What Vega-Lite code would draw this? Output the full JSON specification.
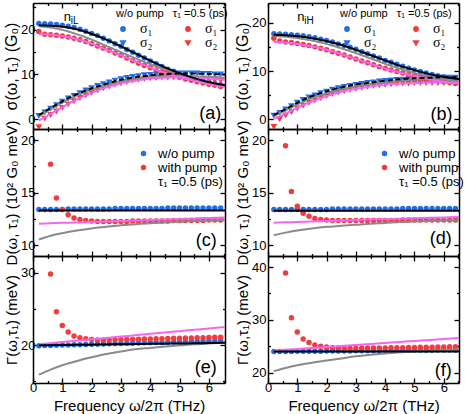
{
"$schema": "https://vega.github.io/schema/vega-lite/v6.json",
"padding": {"left": 3, "top": 1, "right": 0, "bottom": 0},
"bounds": "flush",
"config": {
  "font": "Liberation Sans",
  "view": {"stroke": null},
  "axis": {"domainColor": "#000", "domainWidth": 1.5, "tickColor": "#000", "tickWidth": 1.3, "labelColor": "#000", "titleColor": "#000", "labelFontSize": 13, "titleFontSize": 15, "titleFontWeight": "normal", "grid": false, "labelPadding": 3, "titlePadding": 1, "labelFont": "Liberation Sans", "titleFont": "Liberation Sans", "labelFlush": false, "labelOverlap": false, "labelBound": false},
  "legend": {"titleFontWeight": "normal", "titleColor": "#000", "labelColor": "#000", "padding": 0, "symbolStrokeWidth": 0}
},
"datasets": {
  "pts": [
    {"pn":"a","x":0.2,"w1":21.4,"p1":19.6,"w2":0.8,"p2":-1.7},
    {"pn":"a","x":0.4,"w1":21.35,"p1":19.0,"w2":1.6,"p2":0.2},
    {"pn":"a","x":0.6,"w1":21.3,"p1":18.9,"w2":2.4,"p2":1.0},
    {"pn":"a","x":0.8,"w1":21.2,"p1":18.8,"w2":3.2,"p2":1.8},
    {"pn":"a","x":1.0,"w1":21.0,"p1":18.6,"w2":4.0,"p2":2.6},
    {"pn":"a","x":1.2,"w1":20.8,"p1":18.4,"w2":4.7,"p2":3.4},
    {"pn":"a","x":1.4,"w1":20.5,"p1":18.1,"w2":5.3,"p2":4.1},
    {"pn":"a","x":1.6,"w1":20.1,"p1":17.8,"w2":5.9,"p2":4.8},
    {"pn":"a","x":1.8,"w1":19.7,"p1":17.4,"w2":6.5,"p2":5.4},
    {"pn":"a","x":2.0,"w1":19.2,"p1":16.9,"w2":7.0,"p2":6.0},
    {"pn":"a","x":2.2,"w1":18.7,"p1":16.4,"w2":7.5,"p2":6.5},
    {"pn":"a","x":2.4,"w1":18.1,"p1":15.9,"w2":7.9,"p2":7.0},
    {"pn":"a","x":2.6,"w1":17.5,"p1":15.4,"w2":8.3,"p2":7.4},
    {"pn":"a","x":2.8,"w1":16.9,"p1":14.8,"w2":8.7,"p2":7.8},
    {"pn":"a","x":3.0,"w1":16.3,"p1":14.3,"w2":9.0,"p2":8.1},
    {"pn":"a","x":3.2,"w1":15.6,"p1":13.7,"w2":9.3,"p2":8.4},
    {"pn":"a","x":3.4,"w1":15.0,"p1":13.1,"w2":9.5,"p2":8.7},
    {"pn":"a","x":3.6,"w1":14.3,"p1":12.5,"w2":9.7,"p2":8.9},
    {"pn":"a","x":3.8,"w1":13.7,"p1":12.0,"w2":9.9,"p2":9.1},
    {"pn":"a","x":4.0,"w1":13.0,"p1":11.5,"w2":10.0,"p2":9.2},
    {"pn":"a","x":4.2,"w1":12.4,"p1":11.0,"w2":10.1,"p2":9.3},
    {"pn":"a","x":4.4,"w1":11.8,"p1":10.6,"w2":10.2,"p2":9.4},
    {"pn":"a","x":4.6,"w1":11.2,"p1":10.2,"w2":10.3,"p2":9.4},
    {"pn":"a","x":4.8,"w1":10.7,"p1":9.8,"w2":10.3,"p2":9.4},
    {"pn":"a","x":5.0,"w1":10.2,"p1":9.4,"w2":10.3,"p2":9.4},
    {"pn":"a","x":5.2,"w1":9.7,"p1":9.0,"w2":10.3,"p2":9.3},
    {"pn":"a","x":5.4,"w1":9.3,"p1":8.7,"w2":10.3,"p2":9.2},
    {"pn":"a","x":5.6,"w1":8.9,"p1":8.4,"w2":10.3,"p2":9.1},
    {"pn":"a","x":5.8,"w1":8.6,"p1":8.1,"w2":10.2,"p2":9.0},
    {"pn":"a","x":6.0,"w1":8.3,"p1":7.8,"w2":10.2,"p2":8.9},
    {"pn":"a","x":6.2,"w1":8.0,"p1":7.6,"w2":10.1,"p2":8.8},
    {"pn":"a","x":6.4,"w1":7.7,"p1":7.3,"w2":10.1,"p2":8.7},
    {"pn":"b","x":0.2,"w1":17.7,"p1":16.8,"w2":0.8,"p2":-1.5},
    {"pn":"b","x":0.4,"w1":17.65,"p1":16.2,"w2":1.4,"p2":0.1},
    {"pn":"b","x":0.6,"w1":17.6,"p1":16.0,"w2":2.1,"p2":0.9},
    {"pn":"b","x":0.8,"w1":17.5,"p1":15.9,"w2":2.8,"p2":1.6},
    {"pn":"b","x":1.0,"w1":17.4,"p1":15.7,"w2":3.5,"p2":2.3},
    {"pn":"b","x":1.2,"w1":17.3,"p1":15.5,"w2":4.1,"p2":2.9},
    {"pn":"b","x":1.4,"w1":17.1,"p1":15.3,"w2":4.6,"p2":3.5},
    {"pn":"b","x":1.6,"w1":16.9,"p1":15.0,"w2":5.0,"p2":4.0},
    {"pn":"b","x":1.8,"w1":16.6,"p1":14.7,"w2":5.5,"p2":4.5},
    {"pn":"b","x":2.0,"w1":16.3,"p1":14.4,"w2":5.8,"p2":4.9},
    {"pn":"b","x":2.2,"w1":16.0,"p1":14.0,"w2":6.2,"p2":5.3},
    {"pn":"b","x":2.4,"w1":15.6,"p1":13.7,"w2":6.5,"p2":5.6},
    {"pn":"b","x":2.6,"w1":15.3,"p1":13.3,"w2":6.8,"p2":5.9},
    {"pn":"b","x":2.8,"w1":14.9,"p1":12.9,"w2":7.0,"p2":6.2},
    {"pn":"b","x":3.0,"w1":14.5,"p1":12.5,"w2":7.2,"p2":6.4},
    {"pn":"b","x":3.2,"w1":14.0,"p1":12.1,"w2":7.4,"p2":6.6},
    {"pn":"b","x":3.4,"w1":13.6,"p1":11.7,"w2":7.6,"p2":6.8},
    {"pn":"b","x":3.6,"w1":13.1,"p1":11.3,"w2":7.7,"p2":7.0},
    {"pn":"b","x":3.8,"w1":12.7,"p1":10.9,"w2":7.9,"p2":7.1},
    {"pn":"b","x":4.0,"w1":12.2,"p1":10.6,"w2":8.0,"p2":7.2},
    {"pn":"b","x":4.2,"w1":11.8,"p1":10.2,"w2":8.1,"p2":7.3},
    {"pn":"b","x":4.4,"w1":11.4,"p1":9.9,"w2":8.2,"p2":7.4},
    {"pn":"b","x":4.6,"w1":11.0,"p1":9.6,"w2":8.3,"p2":7.5},
    {"pn":"b","x":4.8,"w1":10.6,"p1":9.3,"w2":8.4,"p2":7.5},
    {"pn":"b","x":5.0,"w1":10.2,"p1":9.0,"w2":8.5,"p2":7.6},
    {"pn":"b","x":5.2,"w1":9.9,"p1":8.7,"w2":8.5,"p2":7.6},
    {"pn":"b","x":5.4,"w1":9.6,"p1":8.4,"w2":8.6,"p2":7.6},
    {"pn":"b","x":5.6,"w1":9.3,"p1":8.2,"w2":8.6,"p2":7.6},
    {"pn":"b","x":5.8,"w1":9.0,"p1":8.0,"w2":8.7,"p2":7.6},
    {"pn":"b","x":6.0,"w1":8.8,"p1":7.8,"w2":8.7,"p2":7.6},
    {"pn":"b","x":6.2,"w1":8.6,"p1":7.6,"w2":8.7,"p2":7.6},
    {"pn":"b","x":6.4,"w1":8.4,"p1":7.4,"w2":8.7,"p2":7.5},
    {"pn":"c","x":0.2,"wo":13.4,"wi":null},{"pn":"c","x":0.4,"wo":13.4,"wi":null},{"pn":"c","x":0.6,"wo":13.4,"wi":17.7},{"pn":"c","x":0.8,"wo":13.4,"wi":14.5},
    {"pn":"c","x":1.0,"wo":13.4,"wi":13.4},{"pn":"c","x":1.2,"wo":13.45,"wi":12.9},{"pn":"c","x":1.4,"wo":13.45,"wi":12.6},{"pn":"c","x":1.6,"wo":13.45,"wi":12.45},
    {"pn":"c","x":1.8,"wo":13.45,"wi":12.35},{"pn":"c","x":2.0,"wo":13.45,"wi":12.3},{"pn":"c","x":2.2,"wo":13.45,"wi":12.25},{"pn":"c","x":2.4,"wo":13.45,"wi":12.25},
    {"pn":"c","x":2.6,"wo":13.45,"wi":12.25},{"pn":"c","x":2.8,"wo":13.5,"wi":12.25},{"pn":"c","x":3.0,"wo":13.5,"wi":12.25},{"pn":"c","x":3.2,"wo":13.5,"wi":12.25},
    {"pn":"c","x":3.4,"wo":13.5,"wi":12.3},{"pn":"c","x":3.6,"wo":13.5,"wi":12.3},{"pn":"c","x":3.8,"wo":13.5,"wi":12.3},{"pn":"c","x":4.0,"wo":13.5,"wi":12.3},
    {"pn":"c","x":4.2,"wo":13.5,"wi":12.3},{"pn":"c","x":4.4,"wo":13.5,"wi":12.3},{"pn":"c","x":4.6,"wo":13.55,"wi":12.3},{"pn":"c","x":4.8,"wo":13.55,"wi":12.35},
    {"pn":"c","x":5.0,"wo":13.55,"wi":12.35},{"pn":"c","x":5.2,"wo":13.55,"wi":12.35},{"pn":"c","x":5.4,"wo":13.55,"wi":12.35},{"pn":"c","x":5.6,"wo":13.55,"wi":12.35},
    {"pn":"c","x":5.8,"wo":13.55,"wi":12.35},{"pn":"c","x":6.0,"wo":13.55,"wi":12.4},{"pn":"c","x":6.2,"wo":13.55,"wi":12.4},{"pn":"c","x":6.4,"wo":13.55,"wi":12.4},
    {"pn":"d","x":0.2,"wo":13.4,"wi":null},{"pn":"d","x":0.4,"wo":13.4,"wi":null},{"pn":"d","x":0.6,"wo":13.4,"wi":19.45},{"pn":"d","x":0.8,"wo":13.4,"wi":15.1},
    {"pn":"d","x":1.0,"wo":13.4,"wi":13.7},{"pn":"d","x":1.2,"wo":13.4,"wi":13.05},{"pn":"d","x":1.4,"wo":13.4,"wi":12.75},{"pn":"d","x":1.6,"wo":13.4,"wi":12.55},
    {"pn":"d","x":1.8,"wo":13.4,"wi":12.45},{"pn":"d","x":2.0,"wo":13.4,"wi":12.4},{"pn":"d","x":2.2,"wo":13.45,"wi":12.35},{"pn":"d","x":2.4,"wo":13.45,"wi":12.35},
    {"pn":"d","x":2.6,"wo":13.45,"wi":12.35},{"pn":"d","x":2.8,"wo":13.45,"wi":12.35},{"pn":"d","x":3.0,"wo":13.45,"wi":12.35},{"pn":"d","x":3.2,"wo":13.45,"wi":12.35},
    {"pn":"d","x":3.4,"wo":13.45,"wi":12.35},{"pn":"d","x":3.6,"wo":13.45,"wi":12.35},{"pn":"d","x":3.8,"wo":13.45,"wi":12.35},{"pn":"d","x":4.0,"wo":13.45,"wi":12.35},
    {"pn":"d","x":4.2,"wo":13.45,"wi":12.35},{"pn":"d","x":4.4,"wo":13.45,"wi":12.35},{"pn":"d","x":4.6,"wo":13.5,"wi":12.4},{"pn":"d","x":4.8,"wo":13.5,"wi":12.4},
    {"pn":"d","x":5.0,"wo":13.5,"wi":12.4},{"pn":"d","x":5.2,"wo":13.5,"wi":12.4},{"pn":"d","x":5.4,"wo":13.5,"wi":12.4},{"pn":"d","x":5.6,"wo":13.5,"wi":12.4},
    {"pn":"d","x":5.8,"wo":13.5,"wi":12.4},{"pn":"d","x":6.0,"wo":13.5,"wi":12.4},{"pn":"d","x":6.2,"wo":13.5,"wi":12.4},{"pn":"d","x":6.4,"wo":13.5,"wi":12.4},
    {"pn":"e","x":0.2,"wo":19.9,"wi":null},{"pn":"e","x":0.4,"wo":19.92,"wi":null},{"pn":"e","x":0.6,"wo":19.94,"wi":29.8},{"pn":"e","x":0.8,"wo":19.97,"wi":24.6},
    {"pn":"e","x":1.0,"wo":19.99,"wi":22.7},{"pn":"e","x":1.2,"wo":20.01,"wi":21.8},{"pn":"e","x":1.4,"wo":20.03,"wi":21.25},{"pn":"e","x":1.6,"wo":20.05,"wi":21.0},
    {"pn":"e","x":1.8,"wo":20.08,"wi":20.85},{"pn":"e","x":2.0,"wo":20.1,"wi":20.75},{"pn":"e","x":2.2,"wo":20.12,"wi":20.7},{"pn":"e","x":2.4,"wo":20.14,"wi":20.7},
    {"pn":"e","x":2.6,"wo":20.16,"wi":20.7},{"pn":"e","x":2.8,"wo":20.19,"wi":20.72},{"pn":"e","x":3.0,"wo":20.21,"wi":20.74},{"pn":"e","x":3.2,"wo":20.23,"wi":20.76},
    {"pn":"e","x":3.4,"wo":20.25,"wi":20.78},{"pn":"e","x":3.6,"wo":20.27,"wi":20.8},{"pn":"e","x":3.8,"wo":20.3,"wi":20.82},{"pn":"e","x":4.0,"wo":20.32,"wi":20.84},
    {"pn":"e","x":4.2,"wo":20.34,"wi":20.86},{"pn":"e","x":4.4,"wo":20.36,"wi":20.88},{"pn":"e","x":4.6,"wo":20.38,"wi":20.9},{"pn":"e","x":4.8,"wo":20.41,"wi":20.92},
    {"pn":"e","x":5.0,"wo":20.43,"wi":20.94},{"pn":"e","x":5.2,"wo":20.45,"wi":20.96},{"pn":"e","x":5.4,"wo":20.47,"wi":20.98},{"pn":"e","x":5.6,"wo":20.49,"wi":21.0},
    {"pn":"e","x":5.8,"wo":20.52,"wi":21.02},{"pn":"e","x":6.0,"wo":20.54,"wi":21.04},{"pn":"e","x":6.2,"wo":20.56,"wi":21.06},{"pn":"e","x":6.4,"wo":20.58,"wi":21.08},
    {"pn":"f","x":0.2,"wo":24.0,"wi":null},{"pn":"f","x":0.4,"wo":24.0,"wi":null},{"pn":"f","x":0.6,"wo":24.02,"wi":38.9},{"pn":"f","x":0.8,"wo":24.03,"wi":30.4},
    {"pn":"f","x":1.0,"wo":24.04,"wi":27.7},{"pn":"f","x":1.2,"wo":24.05,"wi":26.4},{"pn":"f","x":1.4,"wo":24.06,"wi":25.7},{"pn":"f","x":1.6,"wo":24.07,"wi":25.25},
    {"pn":"f","x":1.8,"wo":24.08,"wi":25.0},{"pn":"f","x":2.0,"wo":24.09,"wi":24.85},{"pn":"f","x":2.2,"wo":24.1,"wi":24.75},{"pn":"f","x":2.4,"wo":24.11,"wi":24.7},
    {"pn":"f","x":2.6,"wo":24.12,"wi":24.65},{"pn":"f","x":2.8,"wo":24.13,"wi":24.65},{"pn":"f","x":3.0,"wo":24.14,"wi":24.65},{"pn":"f","x":3.2,"wo":24.15,"wi":24.66},
    {"pn":"f","x":3.4,"wo":24.16,"wi":24.67},{"pn":"f","x":3.6,"wo":24.17,"wi":24.68},{"pn":"f","x":3.8,"wo":24.18,"wi":24.69},{"pn":"f","x":4.0,"wo":24.19,"wi":24.7},
    {"pn":"f","x":4.2,"wo":24.2,"wi":24.71},{"pn":"f","x":4.4,"wo":24.21,"wi":24.72},{"pn":"f","x":4.6,"wo":24.22,"wi":24.74},{"pn":"f","x":4.8,"wo":24.23,"wi":24.76},
    {"pn":"f","x":5.0,"wo":24.24,"wi":24.78},{"pn":"f","x":5.2,"wo":24.25,"wi":24.8},{"pn":"f","x":5.4,"wo":24.26,"wi":24.82},{"pn":"f","x":5.6,"wo":24.27,"wi":24.84},
    {"pn":"f","x":5.8,"wo":24.28,"wi":24.86},{"pn":"f","x":6.0,"wo":24.29,"wi":24.88},{"pn":"f","x":6.2,"wo":24.3,"wi":24.9},{"pn":"f","x":6.4,"wo":24.3,"wi":24.92}
  ],
  "lns": [
    {"pn":"a","x":0.2,"g1":20.8,"g2":0.6,"m1":19.1,"m2":-0.3,"k1":21.0,"k2":0.9},
    {"pn":"a","x":0.6,"g1":20.5,"g2":2.2,"m1":18.9,"m2":1.2,"k1":20.9,"k2":2.5},
    {"pn":"a","x":1.0,"g1":20.0,"g2":3.7,"m1":18.6,"m2":2.7,"k1":20.7,"k2":4.0},
    {"pn":"a","x":1.5,"g1":19.0,"g2":5.3,"m1":17.9,"m2":4.4,"k1":20.1,"k2":5.6},
    {"pn":"a","x":2.0,"g1":17.8,"g2":6.6,"m1":16.9,"m2":5.9,"k1":19.1,"k2":6.9},
    {"pn":"a","x":2.5,"g1":16.4,"g2":7.6,"m1":15.6,"m2":7.1,"k1":17.8,"k2":7.9},
    {"pn":"a","x":3.0,"g1":15.0,"g2":8.4,"m1":14.3,"m2":8.0,"k1":16.3,"k2":8.8},
    {"pn":"a","x":3.5,"g1":13.6,"g2":9.0,"m1":12.9,"m2":8.6,"k1":14.7,"k2":9.4},
    {"pn":"a","x":4.0,"g1":12.3,"g2":9.4,"m1":11.6,"m2":9.1,"k1":13.1,"k2":9.8},
    {"pn":"a","x":4.5,"g1":11.1,"g2":9.6,"m1":10.4,"m2":9.3,"k1":11.6,"k2":10.1},
    {"pn":"a","x":5.0,"g1":10.0,"g2":9.7,"m1":9.4,"m2":9.4,"k1":10.3,"k2":10.2},
    {"pn":"a","x":5.5,"g1":9.0,"g2":9.6,"m1":8.6,"m2":9.3,"k1":9.2,"k2":10.2},
    {"pn":"a","x":6.0,"g1":8.1,"g2":9.5,"m1":7.8,"m2":9.1,"k1":8.3,"k2":10.1},
    {"pn":"a","x":6.55,"g1":7.4,"g2":9.3,"m1":7.2,"m2":8.8,"k1":7.6,"k2":10.0},
    {"pn":"b","x":0.2,"g1":17.2,"g2":0.7,"m1":16.0,"m2":0.1,"k1":17.5,"k2":0.9},
    {"pn":"b","x":0.6,"g1":17.1,"g2":1.9,"m1":15.9,"m2":1.2,"k1":17.4,"k2":2.1},
    {"pn":"b","x":1.0,"g1":16.8,"g2":3.1,"m1":15.6,"m2":2.4,"k1":17.2,"k2":3.4},
    {"pn":"b","x":1.5,"g1":16.3,"g2":4.4,"m1":15.1,"m2":3.7,"k1":16.8,"k2":4.8},
    {"pn":"b","x":2.0,"g1":15.6,"g2":5.4,"m1":14.4,"m2":4.8,"k1":16.2,"k2":5.8},
    {"pn":"b","x":2.5,"g1":14.7,"g2":6.2,"m1":13.5,"m2":5.7,"k1":15.4,"k2":6.6},
    {"pn":"b","x":3.0,"g1":13.7,"g2":6.8,"m1":12.5,"m2":6.3,"k1":14.4,"k2":7.2},
    {"pn":"b","x":3.5,"g1":12.6,"g2":7.3,"m1":11.5,"m2":6.8,"k1":13.3,"k2":7.6},
    {"pn":"b","x":4.0,"g1":11.5,"g2":7.7,"m1":10.5,"m2":7.2,"k1":12.2,"k2":8.0},
    {"pn":"b","x":4.5,"g1":10.5,"g2":8.0,"m1":9.7,"m2":7.4,"k1":11.1,"k2":8.3},
    {"pn":"b","x":5.0,"g1":9.6,"g2":8.2,"m1":9.0,"m2":7.5,"k1":10.2,"k2":8.5},
    {"pn":"b","x":5.5,"g1":8.9,"g2":8.3,"m1":8.3,"m2":7.6,"k1":9.4,"k2":8.6},
    {"pn":"b","x":6.0,"g1":8.3,"g2":8.3,"m1":7.8,"m2":7.6,"k1":8.8,"k2":8.7},
    {"pn":"b","x":6.55,"g1":7.8,"g2":8.3,"m1":7.4,"m2":7.5,"k1":8.3,"k2":8.7},
    {"pn":"c","x":0.2,"g":10.55,"m":12.05,"k":13.3},{"pn":"c","x":0.6,"g":10.9,"m":12.09,"k":13.3},{"pn":"c","x":1.0,"g":11.15,"m":12.13,"k":13.3},
    {"pn":"c","x":1.5,"g":11.4,"m":12.17,"k":13.3},{"pn":"c","x":2.0,"g":11.6,"m":12.22,"k":13.3},{"pn":"c","x":2.5,"g":11.75,"m":12.27,"k":13.3},
    {"pn":"c","x":3.0,"g":11.9,"m":12.31,"k":13.3},{"pn":"c","x":3.5,"g":12.0,"m":12.36,"k":13.3},{"pn":"c","x":4.0,"g":12.1,"m":12.41,"k":13.3},
    {"pn":"c","x":4.5,"g":12.17,"m":12.46,"k":13.3},{"pn":"c","x":5.0,"g":12.24,"m":12.5,"k":13.3},{"pn":"c","x":5.5,"g":12.3,"m":12.55,"k":13.3},
    {"pn":"c","x":6.0,"g":12.35,"m":12.6,"k":13.3},{"pn":"c","x":6.55,"g":12.4,"m":12.65,"k":13.3},
    {"pn":"d","x":0.2,"g":10.95,"m":12.15,"k":13.28},{"pn":"d","x":0.6,"g":11.2,"m":12.18,"k":13.28},{"pn":"d","x":1.0,"g":11.4,"m":12.22,"k":13.28},
    {"pn":"d","x":1.5,"g":11.6,"m":12.26,"k":13.28},{"pn":"d","x":2.0,"g":11.75,"m":12.31,"k":13.28},{"pn":"d","x":2.5,"g":11.85,"m":12.35,"k":13.28},
    {"pn":"d","x":3.0,"g":11.95,"m":12.39,"k":13.28},{"pn":"d","x":3.5,"g":12.05,"m":12.44,"k":13.28},{"pn":"d","x":4.0,"g":12.12,"m":12.48,"k":13.28},
    {"pn":"d","x":4.5,"g":12.2,"m":12.52,"k":13.28},{"pn":"d","x":5.0,"g":12.25,"m":12.57,"k":13.28},{"pn":"d","x":5.5,"g":12.3,"m":12.61,"k":13.28},
    {"pn":"d","x":6.0,"g":12.35,"m":12.65,"k":13.28},{"pn":"d","x":6.55,"g":12.4,"m":12.7,"k":13.28},
    {"pn":"e","x":0.2,"g":15.9,"m":20.1,"k":19.95},{"pn":"e","x":0.6,"g":16.6,"m":20.25,"k":19.97},{"pn":"e","x":1.0,"g":17.2,"m":20.4,"k":20.0},
    {"pn":"e","x":1.5,"g":17.8,"m":20.59,"k":20.02},{"pn":"e","x":2.0,"g":18.3,"m":20.78,"k":20.05},{"pn":"e","x":2.5,"g":18.75,"m":20.97,"k":20.08},
    {"pn":"e","x":3.0,"g":19.1,"m":21.16,"k":20.1},{"pn":"e","x":3.5,"g":19.4,"m":21.35,"k":20.13},{"pn":"e","x":4.0,"g":19.6,"m":21.54,"k":20.16},
    {"pn":"e","x":4.5,"g":19.8,"m":21.73,"k":20.18},{"pn":"e","x":5.0,"g":19.95,"m":21.91,"k":20.21},{"pn":"e","x":5.5,"g":20.1,"m":22.1,"k":20.24},
    {"pn":"e","x":6.0,"g":20.2,"m":22.29,"k":20.27},{"pn":"e","x":6.55,"g":20.35,"m":22.5,"k":20.3},
    {"pn":"f","x":0.2,"g":20.3,"m":24.2,"k":24.0},{"pn":"f","x":0.6,"g":20.9,"m":24.35,"k":24.0},{"pn":"f","x":1.0,"g":21.4,"m":24.5,"k":24.0},
    {"pn":"f","x":1.5,"g":21.9,"m":24.69,"k":24.0},{"pn":"f","x":2.0,"g":22.3,"m":24.88,"k":24.0},{"pn":"f","x":2.5,"g":22.7,"m":25.07,"k":24.0},
    {"pn":"f","x":3.0,"g":23.1,"m":25.26,"k":24.0},{"pn":"f","x":3.5,"g":23.4,"m":25.45,"k":24.0},{"pn":"f","x":4.0,"g":23.65,"m":25.64,"k":24.0},
    {"pn":"f","x":4.5,"g":23.85,"m":25.83,"k":24.0},{"pn":"f","x":5.0,"g":24.0,"m":26.01,"k":24.0},{"pn":"f","x":5.5,"g":24.15,"m":26.2,"k":24.0},
    {"pn":"f","x":6.0,"g":24.3,"m":26.39,"k":24.0},{"pn":"f","x":6.55,"g":24.4,"m":26.6,"k":24.0}
  ]
},
"columns": 2,
"spacing": {"row": 0, "column": 43},
"resolve": {
  "scale": {"x": "independent", "y": "independent", "fill": "independent", "shape": "independent", "stroke": "independent", "strokeDash": "independent"},
  "axis": {"x": "independent", "y": "independent"},
  "legend": {"fill": "independent", "shape": "independent", "stroke": "independent", "strokeDash": "independent"}
},
"concat": [
 {
  "width": 192, "height": 126,
  "layer": [
   {
    "data": {"name": "pts"},
    "transform": [{"filter": "datum.pn==='a'"}, {"fold": ["w1","w2","p1","p2"], "as": ["s","y"]}, {"filter": "isValid(datum.y)"}],
    "mark": {"type": "point", "filled": true, "opacity": 1, "size": 30, "clip": true},
    "encoding": {
      "x": {"field": "x", "type": "quantitative", "scale": {"domain": [0, 6.55], "nice": false, "zero": false}, "axis": {"orient": "bottom", "values": [0,0.5,1,1.5,2,2.5,3,3.5,4,4.5,5,5.5,6,6.5], "labels": false, "title": null, "tickSize": {"condition": {"test": "datum.value % 1 !== 0", "value": -2.5}, "value": -5}}},
      "y": {"field": "y", "type": "quantitative", "scale": {"domain": [-2.2, 26], "nice": false, "zero": false}, "axis": {"orient": "left", "values": [0,5,10,15,20,25], "labelExpr": "datum.value % 10 ? '' : datum.label", "title": "σ(ω,  τ₁)  (G₀)", "titleFontSize": 16, "tickSize": {"condition": {"test": "datum.value % 10 !== 0", "value": -2.5}, "value": -5}}},
      "fill": {"field": "s", "type": "nominal", "scale": {"domain": ["w1","w2","p1","p2"], "range": ["#1f6fe5","#1f6fe5","#f03c3c","#f03c3c"]},
        "legend": {"orient": "none", "legendX": 83, "legendY": 5, "columns": 2, "title": "w/o pump\u00a0\u00a0\u00a0τ₁ =0.5 (ps)", "titleFontSize": 11, "titlePadding": 3, "titleFont": "Liberation Sans", "labelExpr": "datum.value=='w1'||datum.value=='p1' ? 'σ₁' : 'σ₂'", "labelFont": "Liberation Serif", "labelFontSize": 14, "symbolSize": 34, "columnPadding": 28, "rowPadding": 0, "labelOffset": 10}},
      "shape": {"field": "s", "type": "nominal", "scale": {"domain": ["w1","w2","p1","p2"], "range": ["circle","M-1.25,-0.95L1.25,-0.95L0,1.2Z","circle","M-1.25,-0.95L1.25,-0.95L0,1.2Z"]},
        "legend": {"orient": "none", "legendX": 83, "legendY": 5, "columns": 2, "title": "w/o pump\u00a0\u00a0\u00a0τ₁ =0.5 (ps)", "titleFontSize": 11, "titlePadding": 3, "titleFont": "Liberation Sans", "labelExpr": "datum.value=='w1'||datum.value=='p1' ? 'σ₁' : 'σ₂'", "labelFont": "Liberation Serif", "labelFontSize": 14, "symbolSize": 34, "columnPadding": 28, "rowPadding": 0, "labelOffset": 10}}
    }
   },
   {
    "data": {"name": "lns"},
    "transform": [{"filter": "datum.pn==='a'"}, {"fold": ["g1","g2","m1","m2","k1","k2"], "as": ["l","y"]}],
    "mark": {"type": "line", "strokeWidth": 2, "interpolate": "monotone", "clip": true},
    "encoding": {
      "x": {"field": "x", "type": "quantitative", "scale": {"domain": [0, 6.55], "nice": false, "zero": false}, "axis": {"orient": "top", "values": [0,0.5,1,1.5,2,2.5,3,3.5,4,4.5,5,5.5,6,6.5], "labels": false, "title": null, "tickSize": {"condition": {"test": "datum.value % 1 !== 0", "value": -2.5}, "value": -5}}},
      "y": {"field": "y", "type": "quantitative", "scale": {"domain": [-2.2, 26], "nice": false, "zero": false}, "axis": {"orient": "right", "values": [0,5,10,15,20,25], "labels": false, "title": null, "tickSize": {"condition": {"test": "datum.value % 10 !== 0", "value": -2.5}, "value": -5}}},
      "stroke": {"field": "l", "type": "nominal", "scale": {"domain": ["g1","g2","m1","m2","k1","k2"], "range": ["#8a8a8a","#8a8a8a","#f266f2","#f266f2","#000000","#000000"]}, "legend": null},
      "strokeDash": {"field": "l", "type": "nominal", "scale": {"domain": ["g1","g2","m1","m2","k1","k2"], "range": [[1,0],[1,0],[1,0],[1,0],[1,0],[5,3]]}, "legend": null}
    }
   },
   {
    "data": {"values": [{}]},
    "mark": {"type": "text", "fontSize": 18, "align": "right", "baseline": "middle", "font": "Liberation Sans"},
    "encoding": {
      "x": {"datum": 6.42, "type": "quantitative", "scale": {"domain": [0, 6.55], "nice": false, "zero": false}, "axis": null},
      "y": {"datum": 1.2, "type": "quantitative", "scale": {"domain": [-2.2, 26], "nice": false, "zero": false}, "axis": null},
      "text": {"value": "(a)"}
    }
   },
   {
    "data": {"values": [{}]},
    "mark": {"type": "text", "fontSize": 13, "align": "left", "baseline": "alphabetic", "font": "Liberation Sans"},
    "encoding": {
      "x": {"datum": 1.05, "type": "quantitative", "scale": {"domain": [0, 6.55], "nice": false, "zero": false}, "axis": null},
      "y": {"datum": 21.9, "type": "quantitative", "scale": {"domain": [-2.2, 26], "nice": false, "zero": false}, "axis": null},
      "text": {"value": "n"}
    }
   },
   {
    "data": {"values": [{}]},
    "mark": {"type": "text", "fontSize": 10, "align": "left", "baseline": "alphabetic", "dx": 7, "dy": 3, "font": "Liberation Sans"},
    "encoding": {
      "x": {"datum": 1.05, "type": "quantitative", "scale": {"domain": [0, 6.55], "nice": false, "zero": false}, "axis": null},
      "y": {"datum": 21.9, "type": "quantitative", "scale": {"domain": [-2.2, 26], "nice": false, "zero": false}, "axis": null},
      "text": {"value": "iL"}
    }
   }
  ],
  "resolve": {"axis": {"x": "independent", "y": "independent"}}
 },
 {
  "width": 191, "height": 126,
  "layer": [
   {
    "data": {"name": "pts"},
    "transform": [{"filter": "datum.pn==='b'"}, {"fold": ["w1","w2","p1","p2"], "as": ["s","y"]}, {"filter": "isValid(datum.y)"}],
    "mark": {"type": "point", "filled": true, "opacity": 1, "size": 30, "clip": true},
    "encoding": {
      "x": {"field": "x", "type": "quantitative", "scale": {"domain": [0, 6.52], "nice": false, "zero": false}, "axis": {"orient": "bottom", "values": [0,0.5,1,1.5,2,2.5,3,3.5,4,4.5,5,5.5,6,6.5], "labels": false, "title": null, "tickSize": {"condition": {"test": "datum.value % 1 !== 0", "value": -2.5}, "value": -5}}},
      "y": {"field": "y", "type": "quantitative", "scale": {"domain": [-2, 24.08], "nice": false, "zero": false}, "axis": {"orient": "left", "values": [0,5,10,15,20], "labelExpr": "datum.value % 10 ? '' : datum.label", "labelPadding": 7, "title": "σ(ω,  τ₁)  (G₀)", "titleFontSize": 16, "tickSize": {"condition": {"test": "datum.value % 10 !== 0", "value": -2.5}, "value": -5}}},
      "fill": {"field": "s", "type": "nominal", "scale": {"domain": ["w1","w2","p1","p2"], "range": ["#1f6fe5","#1f6fe5","#f03c3c","#f03c3c"]},
        "legend": {"orient": "none", "legendX": 72, "legendY": 5, "columns": 2, "title": "w/o pump\u00a0\u00a0\u00a0τ₁ =0.5 (ps)", "titleFontSize": 11, "titlePadding": 3, "titleFont": "Liberation Sans", "labelExpr": "datum.value=='w1'||datum.value=='p1' ? 'σ₁' : 'σ₂'", "labelFont": "Liberation Serif", "labelFontSize": 14, "symbolSize": 34, "columnPadding": 32, "rowPadding": 0, "labelOffset": 10}},
      "shape": {"field": "s", "type": "nominal", "scale": {"domain": ["w1","w2","p1","p2"], "range": ["circle","M-1.25,-0.95L1.25,-0.95L0,1.2Z","circle","M-1.25,-0.95L1.25,-0.95L0,1.2Z"]},
        "legend": {"orient": "none", "legendX": 72, "legendY": 5, "columns": 2, "title": "w/o pump\u00a0\u00a0\u00a0τ₁ =0.5 (ps)", "titleFontSize": 11, "titlePadding": 3, "titleFont": "Liberation Sans", "labelExpr": "datum.value=='w1'||datum.value=='p1' ? 'σ₁' : 'σ₂'", "labelFont": "Liberation Serif", "labelFontSize": 14, "symbolSize": 34, "columnPadding": 32, "rowPadding": 0, "labelOffset": 10}}
    }
   },
   {
    "data": {"name": "lns"},
    "transform": [{"filter": "datum.pn==='b'"}, {"fold": ["g1","g2","m1","m2","k1","k2"], "as": ["l","y"]}],
    "mark": {"type": "line", "strokeWidth": 2, "interpolate": "monotone", "clip": true},
    "encoding": {
      "x": {"field": "x", "type": "quantitative", "scale": {"domain": [0, 6.52], "nice": false, "zero": false}, "axis": {"orient": "top", "values": [0,0.5,1,1.5,2,2.5,3,3.5,4,4.5,5,5.5,6,6.5], "labels": false, "title": null, "tickSize": {"condition": {"test": "datum.value % 1 !== 0", "value": -2.5}, "value": -5}}},
      "y": {"field": "y", "type": "quantitative", "scale": {"domain": [-2, 24.08], "nice": false, "zero": false}, "axis": {"orient": "right", "values": [0,5,10,15,20], "labels": false, "title": null, "tickSize": {"condition": {"test": "datum.value % 10 !== 0", "value": -2.5}, "value": -5}}},
      "stroke": {"field": "l", "type": "nominal", "scale": {"domain": ["g1","g2","m1","m2","k1","k2"], "range": ["#8a8a8a","#8a8a8a","#f266f2","#f266f2","#000000","#000000"]}, "legend": null},
      "strokeDash": {"field": "l", "type": "nominal", "scale": {"domain": ["g1","g2","m1","m2","k1","k2"], "range": [[1,0],[1,0],[1,0],[1,0],[1,0],[5,3]]}, "legend": null}
    }
   },
   {
    "data": {"values": [{}]},
    "mark": {"type": "text", "fontSize": 18, "align": "right", "baseline": "middle", "font": "Liberation Sans"},
    "encoding": {
      "x": {"datum": 6.3, "type": "quantitative", "scale": {"domain": [0, 6.52], "nice": false, "zero": false}, "axis": null},
      "y": {"datum": 1.0, "type": "quantitative", "scale": {"domain": [-2, 24.08], "nice": false, "zero": false}, "axis": null},
      "text": {"value": "(b)"}
    }
   },
   {
    "data": {"values": [{}]},
    "mark": {"type": "text", "fontSize": 13, "align": "left", "baseline": "alphabetic", "font": "Liberation Sans"},
    "encoding": {
      "x": {"datum": 1.0, "type": "quantitative", "scale": {"domain": [0, 6.52], "nice": false, "zero": false}, "axis": null},
      "y": {"datum": 20.3, "type": "quantitative", "scale": {"domain": [-2, 24.08], "nice": false, "zero": false}, "axis": null},
      "text": {"value": "n"}
    }
   },
   {
    "data": {"values": [{}]},
    "mark": {"type": "text", "fontSize": 10, "align": "left", "baseline": "alphabetic", "dx": 7, "dy": 3, "font": "Liberation Sans"},
    "encoding": {
      "x": {"datum": 1.0, "type": "quantitative", "scale": {"domain": [0, 6.52], "nice": false, "zero": false}, "axis": null},
      "y": {"datum": 20.3, "type": "quantitative", "scale": {"domain": [-2, 24.08], "nice": false, "zero": false}, "axis": null},
      "text": {"value": "iH"}
    }
   }
  ],
  "resolve": {"axis": {"x": "independent", "y": "independent"}}
 },
 {
  "width": 192, "height": 127,
  "layer": [
   {
    "data": {"name": "pts"},
    "transform": [{"filter": "datum.pn==='c'"}, {"fold": ["wo","wi"], "as": ["s","y"]}, {"filter": "isValid(datum.y)"}],
    "mark": {"type": "point", "filled": true, "opacity": 1, "size": 30, "clip": true},
    "encoding": {
      "x": {"field": "x", "type": "quantitative", "scale": {"domain": [0, 6.55], "nice": false, "zero": false}, "axis": {"orient": "bottom", "values": [0,0.5,1,1.5,2,2.5,3,3.5,4,4.5,5,5.5,6,6.5], "labels": false, "title": null, "tickSize": {"condition": {"test": "datum.value % 1 !== 0", "value": -2.5}, "value": -5}}},
      "y": {"field": "y", "type": "quantitative", "scale": {"domain": [8.98, 21.05], "nice": false, "zero": false}, "axis": {"orient": "left", "values": [10,12.5,15,17.5,20], "labelExpr": "datum.value % 5 ? '' : datum.label", "title": "D(ω, τ₁) (10² G₀ meV)", "tickSize": {"condition": {"test": "datum.value % 5 !== 0", "value": -2.5}, "value": -5}}},
      "fill": {"field": "s", "type": "nominal", "scale": {"domain": ["wo","wi","t"], "range": ["#1f6fe5","#f03c3c","transparent"]},
        "legend": {"orient": "none", "legendX": 104, "legendY": 18, "title": null, "labelExpr": "datum.value=='wo' ? 'w/o pump' : datum.value=='wi' ? 'with pump' : 'τ₁ =0.5 (ps)'", "labelFont": "Liberation Sans", "labelFontSize": 13, "symbolSize": 30, "rowPadding": 0, "labelOffset": 8}},
      "shape": {"field": "s", "type": "nominal", "scale": {"domain": ["wo","wi","t"], "range": ["circle","circle","circle"]},
        "legend": {"orient": "none", "legendX": 104, "legendY": 18, "title": null, "labelExpr": "datum.value=='wo' ? 'w/o pump' : datum.value=='wi' ? 'with pump' : 'τ₁ =0.5 (ps)'", "labelFont": "Liberation Sans", "labelFontSize": 13, "symbolSize": 30, "rowPadding": 0, "labelOffset": 8}}
    }
   },
   {
    "data": {"name": "lns"},
    "transform": [{"filter": "datum.pn==='c'"}, {"fold": ["g","m","k"], "as": ["l","y"]}],
    "mark": {"type": "line", "strokeWidth": 2, "interpolate": "monotone", "clip": true},
    "encoding": {
      "x": {"field": "x", "type": "quantitative", "scale": {"domain": [0, 6.55], "nice": false, "zero": false}, "axis": {"orient": "top", "values": [0,0.5,1,1.5,2,2.5,3,3.5,4,4.5,5,5.5,6,6.5], "labels": false, "title": null, "tickSize": {"condition": {"test": "datum.value % 1 !== 0", "value": -2.5}, "value": -5}}},
      "y": {"field": "y", "type": "quantitative", "scale": {"domain": [8.98, 21.05], "nice": false, "zero": false}, "axis": {"orient": "right", "values": [10,12.5,15,17.5,20], "labels": false, "title": null, "tickSize": {"condition": {"test": "datum.value % 5 !== 0", "value": -2.5}, "value": -5}}},
      "stroke": {"field": "l", "type": "nominal", "scale": {"domain": ["g","m","k"], "range": ["#8a8a8a","#f266f2","#000000"]}, "legend": null}
    }
   },
   {
    "data": {"values": [{}]},
    "mark": {"type": "text", "fontSize": 18, "align": "right", "baseline": "middle", "font": "Liberation Sans"},
    "encoding": {
      "x": {"datum": 6.27, "type": "quantitative", "scale": {"domain": [0, 6.55], "nice": false, "zero": false}, "axis": null},
      "y": {"datum": 10.4, "type": "quantitative", "scale": {"domain": [8.98, 21.05], "nice": false, "zero": false}, "axis": null},
      "text": {"value": "(c)"}
    }
   }
  ],
  "resolve": {"axis": {"x": "independent", "y": "independent"}}
 },
 {
  "width": 191, "height": 127,
  "layer": [
   {
    "data": {"name": "pts"},
    "transform": [{"filter": "datum.pn==='d'"}, {"fold": ["wo","wi"], "as": ["s","y"]}, {"filter": "isValid(datum.y)"}],
    "mark": {"type": "point", "filled": true, "opacity": 1, "size": 30, "clip": true},
    "encoding": {
      "x": {"field": "x", "type": "quantitative", "scale": {"domain": [0, 6.52], "nice": false, "zero": false}, "axis": {"orient": "bottom", "values": [0,0.5,1,1.5,2,2.5,3,3.5,4,4.5,5,5.5,6,6.5], "labels": false, "title": null, "tickSize": {"condition": {"test": "datum.value % 1 !== 0", "value": -2.5}, "value": -5}}},
      "y": {"field": "y", "type": "quantitative", "scale": {"domain": [8.98, 21.05], "nice": false, "zero": false}, "axis": {"orient": "left", "values": [10,12.5,15,17.5,20], "labelExpr": "datum.value % 5 ? '' : datum.label", "labelPadding": 7, "title": "D(ω, τ₁) (10² G₀ meV)", "tickSize": {"condition": {"test": "datum.value % 5 !== 0", "value": -2.5}, "value": -5}}},
      "fill": {"field": "s", "type": "nominal", "scale": {"domain": ["wo","wi","t"], "range": ["#1f6fe5","#f03c3c","transparent"]},
        "legend": {"orient": "none", "legendX": 110, "legendY": 18, "title": null, "labelExpr": "datum.value=='wo' ? 'w/o pump' : datum.value=='wi' ? 'with pump' : 'τ₁ =0.5 (ps)'", "labelFont": "Liberation Sans", "labelFontSize": 13, "symbolSize": 30, "rowPadding": 0, "labelOffset": 8}},
      "shape": {"field": "s", "type": "nominal", "scale": {"domain": ["wo","wi","t"], "range": ["circle","circle","circle"]},
        "legend": {"orient": "none", "legendX": 110, "legendY": 18, "title": null, "labelExpr": "datum.value=='wo' ? 'w/o pump' : datum.value=='wi' ? 'with pump' : 'τ₁ =0.5 (ps)'", "labelFont": "Liberation Sans", "labelFontSize": 13, "symbolSize": 30, "rowPadding": 0, "labelOffset": 8}}
    }
   },
   {
    "data": {"name": "lns"},
    "transform": [{"filter": "datum.pn==='d'"}, {"fold": ["g","m","k"], "as": ["l","y"]}],
    "mark": {"type": "line", "strokeWidth": 2, "interpolate": "monotone", "clip": true},
    "encoding": {
      "x": {"field": "x", "type": "quantitative", "scale": {"domain": [0, 6.52], "nice": false, "zero": false}, "axis": {"orient": "top", "values": [0,0.5,1,1.5,2,2.5,3,3.5,4,4.5,5,5.5,6,6.5], "labels": false, "title": null, "tickSize": {"condition": {"test": "datum.value % 1 !== 0", "value": -2.5}, "value": -5}}},
      "y": {"field": "y", "type": "quantitative", "scale": {"domain": [8.98, 21.05], "nice": false, "zero": false}, "axis": {"orient": "right", "values": [10,12.5,15,17.5,20], "labels": false, "title": null, "tickSize": {"condition": {"test": "datum.value % 5 !== 0", "value": -2.5}, "value": -5}}},
      "stroke": {"field": "l", "type": "nominal", "scale": {"domain": ["g","m","k"], "range": ["#8a8a8a","#f266f2","#000000"]}, "legend": null}
    }
   },
   {
    "data": {"values": [{}]},
    "mark": {"type": "text", "fontSize": 18, "align": "right", "baseline": "middle", "font": "Liberation Sans"},
    "encoding": {
      "x": {"datum": 6.27, "type": "quantitative", "scale": {"domain": [0, 6.52], "nice": false, "zero": false}, "axis": null},
      "y": {"datum": 10.57, "type": "quantitative", "scale": {"domain": [8.98, 21.05], "nice": false, "zero": false}, "axis": null},
      "text": {"value": "(d)"}
    }
   }
  ],
  "resolve": {"axis": {"x": "independent", "y": "independent"}}
 },
 {
  "width": 192, "height": 127,
  "layer": [
   {
    "data": {"name": "pts"},
    "transform": [{"filter": "datum.pn==='e'"}, {"fold": ["wo","wi"], "as": ["s","y"]}, {"filter": "isValid(datum.y)"}],
    "mark": {"type": "point", "filled": true, "opacity": 1, "size": 30, "clip": true},
    "encoding": {
      "x": {"field": "x", "type": "quantitative", "scale": {"domain": [0, 6.55], "nice": false, "zero": false}, "axis": {"orient": "bottom", "values": [0,0.5,1,1.5,2,2.5,3,3.5,4,4.5,5,5.5,6,6.5], "labelExpr": "datum.value % 1 ? '' : format(datum.value, 'd')", "title": "Frequency ω/2π (THz)", "titlePadding": 2, "tickSize": {"condition": {"test": "datum.value % 1 !== 0", "value": -2.5}, "value": -5}}},
      "y": {"field": "y", "type": "quantitative", "scale": {"domain": [14.75, 32.3], "nice": false, "zero": false}, "axis": {"orient": "left", "values": [15,20,25,30], "labelExpr": "datum.value % 10 ? '' : datum.label", "title": "Γ(ω,τ₁) (meV)", "tickSize": {"condition": {"test": "datum.value % 10 !== 0", "value": -2.5}, "value": -5}}},
      "fill": {"field": "s", "type": "nominal", "scale": {"domain": ["wo","wi"], "range": ["#1f6fe5","#f03c3c"]}, "legend": null}
    }
   },
   {
    "data": {"name": "lns"},
    "transform": [{"filter": "datum.pn==='e'"}, {"fold": ["g","m","k"], "as": ["l","y"]}],
    "mark": {"type": "line", "strokeWidth": 2, "interpolate": "monotone", "clip": true},
    "encoding": {
      "x": {"field": "x", "type": "quantitative", "scale": {"domain": [0, 6.55], "nice": false, "zero": false}, "axis": {"orient": "top", "values": [0,0.5,1,1.5,2,2.5,3,3.5,4,4.5,5,5.5,6,6.5], "labels": false, "title": null, "tickSize": {"condition": {"test": "datum.value % 1 !== 0", "value": -2.5}, "value": -5}}},
      "y": {"field": "y", "type": "quantitative", "scale": {"domain": [14.75, 32.3], "nice": false, "zero": false}, "axis": {"orient": "right", "values": [15,20,25,30], "labels": false, "title": null, "tickSize": {"condition": {"test": "datum.value % 10 !== 0", "value": -2.5}, "value": -5}}},
      "stroke": {"field": "l", "type": "nominal", "scale": {"domain": ["g","m","k"], "range": ["#8a8a8a","#f266f2","#000000"]}, "legend": null}
    }
   },
   {
    "data": {"values": [{}]},
    "mark": {"type": "text", "fontSize": 18, "align": "right", "baseline": "middle", "font": "Liberation Sans"},
    "encoding": {
      "x": {"datum": 6.27, "type": "quantitative", "scale": {"domain": [0, 6.55], "nice": false, "zero": false}, "axis": null},
      "y": {"datum": 16.86, "type": "quantitative", "scale": {"domain": [14.75, 32.3], "nice": false, "zero": false}, "axis": null},
      "text": {"value": "(e)"}
    }
   }
  ],
  "resolve": {"axis": {"x": "independent", "y": "independent"}}
 },
 {
  "width": 191, "height": 127,
  "layer": [
   {
    "data": {"name": "pts"},
    "transform": [{"filter": "datum.pn==='f'"}, {"fold": ["wo","wi"], "as": ["s","y"]}, {"filter": "isValid(datum.y)"}],
    "mark": {"type": "point", "filled": true, "opacity": 1, "size": 30, "clip": true},
    "encoding": {
      "x": {"field": "x", "type": "quantitative", "scale": {"domain": [0, 6.52], "nice": false, "zero": false}, "axis": {"orient": "bottom", "values": [0,0.5,1,1.5,2,2.5,3,3.5,4,4.5,5,5.5,6,6.5], "labelExpr": "datum.value % 1 ? '' : format(datum.value, 'd')", "title": "Frequency ω/2π (THz)", "titlePadding": 2, "tickSize": {"condition": {"test": "datum.value % 1 !== 0", "value": -2.5}, "value": -5}}},
      "y": {"field": "y", "type": "quantitative", "scale": {"domain": [18.05, 42.1], "nice": false, "zero": false}, "axis": {"orient": "left", "values": [20,25,30,35,40], "labelExpr": "datum.value % 10 ? '' : datum.label", "labelPadding": 7, "title": "Γ(ω,τ₁) (meV)", "tickSize": {"condition": {"test": "datum.value % 10 !== 0", "value": -2.5}, "value": -5}}},
      "fill": {"field": "s", "type": "nominal", "scale": {"domain": ["wo","wi"], "range": ["#1f6fe5","#f03c3c"]}, "legend": null}
    }
   },
   {
    "data": {"name": "lns"},
    "transform": [{"filter": "datum.pn==='f'"}, {"fold": ["g","m","k"], "as": ["l","y"]}],
    "mark": {"type": "line", "strokeWidth": 2, "interpolate": "monotone", "clip": true},
    "encoding": {
      "x": {"field": "x", "type": "quantitative", "scale": {"domain": [0, 6.52], "nice": false, "zero": false}, "axis": {"orient": "top", "values": [0,0.5,1,1.5,2,2.5,3,3.5,4,4.5,5,5.5,6,6.5], "labels": false, "title": null, "tickSize": {"condition": {"test": "datum.value % 1 !== 0", "value": -2.5}, "value": -5}}},
      "y": {"field": "y", "type": "quantitative", "scale": {"domain": [18.05, 42.1], "nice": false, "zero": false}, "axis": {"orient": "right", "values": [20,25,30,35,40], "labels": false, "title": null, "tickSize": {"condition": {"test": "datum.value % 10 !== 0", "value": -2.5}, "value": -5}}},
      "stroke": {"field": "l", "type": "nominal", "scale": {"domain": ["g","m","k"], "range": ["#8a8a8a","#f266f2","#000000"]}, "legend": null}
    }
   },
   {
    "data": {"values": [{}]},
    "mark": {"type": "text", "fontSize": 18, "align": "right", "baseline": "middle", "font": "Liberation Sans"},
    "encoding": {
      "x": {"datum": 6.27, "type": "quantitative", "scale": {"domain": [0, 6.52], "nice": false, "zero": false}, "axis": null},
      "y": {"datum": 20.3, "type": "quantitative", "scale": {"domain": [18.05, 42.1], "nice": false, "zero": false}, "axis": null},
      "text": {"value": "(f)"}
    }
   }
  ],
  "resolve": {"axis": {"x": "independent", "y": "independent"}}
 }
]
}
